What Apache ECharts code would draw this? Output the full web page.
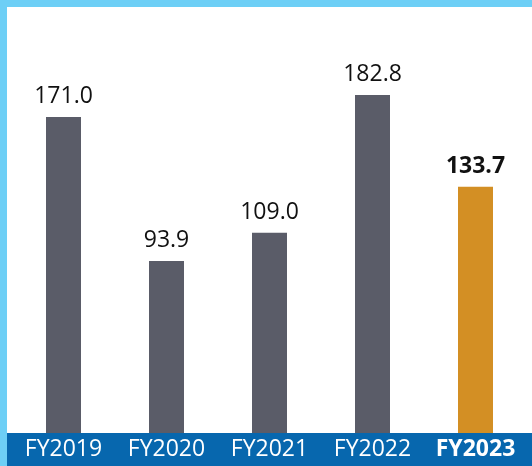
<!DOCTYPE html>
<html>
<head>
<meta charset="utf-8">
<style>
  html, body { margin: 0; padding: 0; background: #fff; }
  #chart { width: 532px; height: 466px; }
</style>
<script src="https://cdn.jsdelivr.net/npm/echarts@6/dist/echarts.min.js"></script>
</head>
<body>
<div id="chart"></div>
<script>
// ── Data ─────────────────────────────────────────────────────
const years  = ['FY2019', 'FY2020', 'FY2021', 'FY2022', 'FY2023'];
const values = [171.0, 93.9, 109.0, 182.8, 133.7];
const highlightYear = 'FY2023';

// ── Colours ──────────────────────────────────────────────────
const GRAY   = '#5a5c68';
const ORANGE = '#d38f24';
const STRIP  = '#0767ae';
const FRAME  = '#6dcff6';
const FONT   = '"Open Sans", "Noto Sans", sans-serif';

const chart = echarts.init(document.getElementById('chart'), null, { renderer: 'canvas' });

const barData = values.map((v, i) => {
  const hi = years[i] === highlightYear;
  return {
    value: v,
    itemStyle: { color: hi ? ORANGE : GRAY },
    label: { fontWeight: hi ? 'bold' : 'normal' },
  };
});

chart.setOption({
  backgroundColor: '#fff',
  animation: false,
  grid: { left: 12, right: 5, top: 63, bottom: 30 },
  xAxis: {
    type: 'category',
    data: years,
    z: 10,
    axisLine: { show: false },
    axisTick: { show: false },
    axisLabel: {
      interval: 0,
      hideOverlap: false,
      margin: 13,
      verticalAlign: 'middle',
      color: '#fff',
      fontFamily: FONT,
      fontSize: 23,
      formatter: v => v === highlightYear ? `{b|${v}}` : v,
      rich: { b: { fontWeight: 'bold', color: '#fff', fontFamily: FONT, fontSize: 23 } },
    },
  },
  yAxis: { type: 'value', min: 0, max: 200, show: false, splitLine: { show: false } },
  series: [{
    type: 'bar',
    data: barData,
    barWidth: 35,
    label: {
      show: true,
      position: 'top',
      distance: 9,
      color: '#111',
      fontFamily: FONT,
      fontSize: 23,
      formatter: p => p.value.toFixed(1),
    },
  }],
  graphic: [
    { type: 'rect', z: 5, shape: { x: 7, y: 433, width: 525, height: 33 }, style: { fill: STRIP } },
    { type: 'rect', z: 6, shape: { x: 0, y: 0, width: 7, height: 466 }, style: { fill: FRAME } },
    { type: 'rect', z: 6, shape: { x: 0, y: 0, width: 532, height: 7 }, style: { fill: FRAME } },
  ],
});
</script>
</body>
</html>
